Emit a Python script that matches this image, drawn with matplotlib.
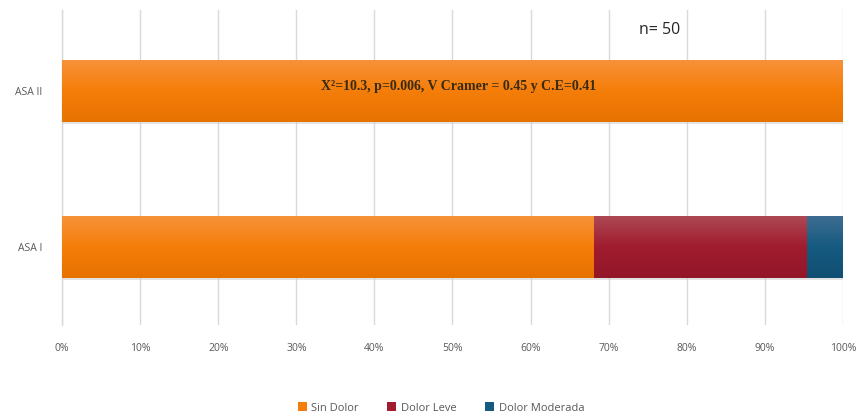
import numpy as np
import matplotlib
matplotlib.use("Agg")
import matplotlib.pyplot as plt
from matplotlib.colors import LinearSegmentedColormap
from matplotlib.patches import Rectangle

categories = ["ASA I", "ASA II"]
series_names = ["Sin Dolor", "Dolor Leve", "Dolor Moderada"]
sin_dolor = [68.18, 100.0]
dolor_leve = [27.27, 0.0]
dolor_moderada = [4.55, 0.0]
tick_labels = ["0%", "10%", "20%", "30%", "40%", "50%", "60%", "70%", "80%", "90%", "100%"]
annotation = "X²=10.3, p=0.006, V Cramer = 0.45 y C.E=0.41"
sample_label = "n= 50"

colors = ["#F57E0A", "#A01C2E", "#165A80"]
light = ["#F7923A", "#AE4A55", "#3E6E92"]
dark = ["#E87200", "#931628", "#114F73"]

plt.rcParams["font.family"] = ["Open Sans", "DejaVu Sans"]

fig = plt.figure(figsize=(8.6, 4.17), dpi=100)
ax = fig.add_axes([62 / 860, 1 - 325 / 417, (843 - 62) / 860, 315 / 417])

y = np.arange(len(categories))
height = 0.4
left = np.zeros(len(categories))
series = [sin_dolor, dolor_leve, dolor_moderada]
for vals, name, c, lc, dc in zip(series, series_names, colors, light, dark):
    bars = ax.barh(y, vals, height=height, left=left, color=c, label=name,
                   edgecolor="none", zorder=3)
    cmap = LinearSegmentedColormap.from_list(name, [dc, c, lc])
    grad = np.linspace(0, 1, 64).reshape(-1, 1)
    for b in bars:
        if b.get_width() <= 0:
            continue
        x0, y0 = b.get_x(), b.get_y()
        w, h = b.get_width(), b.get_height()
        # soft drop shadow under each segment
        sh = Rectangle((x0 + 0.1, y0 - 0.012), w, h, facecolor="#C8C8C8",
                       alpha=0.5, edgecolor="none", zorder=2)
        ax.add_patch(sh)
        im = ax.imshow(grad, cmap=cmap, aspect="auto", origin="lower",
                       extent=(x0, x0 + w, y0, y0 + h), zorder=3.5,
                       interpolation="bicubic")
        im.set_clip_path(b)
    left = left + np.array(vals)

ax.set_xlim(0, 100)
ax.set_ylim(-0.5, 1.52)
ax.set_xticks(np.arange(0, 101, 10))
ax.set_xticklabels(tick_labels, fontsize=7.5, color="#595959")
ax.set_yticks(y)
ax.set_yticklabels(categories, fontsize=7.5, color="#595959")
ax.tick_params(axis="x", length=0, pad=13)
ax.tick_params(axis="y", length=0, pad=14)
ax.xaxis.grid(True, color="#D9D9D9", linewidth=1, zorder=0)
ax.set_axisbelow(True)
for s in ["top", "right", "bottom"]:
    ax.spines[s].set_visible(False)
ax.spines["left"].set_color("#D9D9D9")
ax.spines["left"].set_linewidth(1)

ax.text(50.8, 1.03, annotation, ha="center", va="center", fontsize=10,
        fontweight="bold", family=["Liberation Serif", "DejaVu Serif"],
        color="#3A2A10", zorder=5)

fig.text(660 / 860, 1 - 30 / 417, sample_label, ha="center", va="center",
         fontsize=11.5, color="#262626")

fig.legend(loc="center", bbox_to_anchor=(441 / 860, 1 - 408 / 417), ncol=3,
           frameon=False, fontsize=8, labelcolor="#595959",
           handlelength=0.8, handleheight=0.8, handletextpad=0.4,
           columnspacing=2.6)

fig.savefig("out.png", dpi=100)
